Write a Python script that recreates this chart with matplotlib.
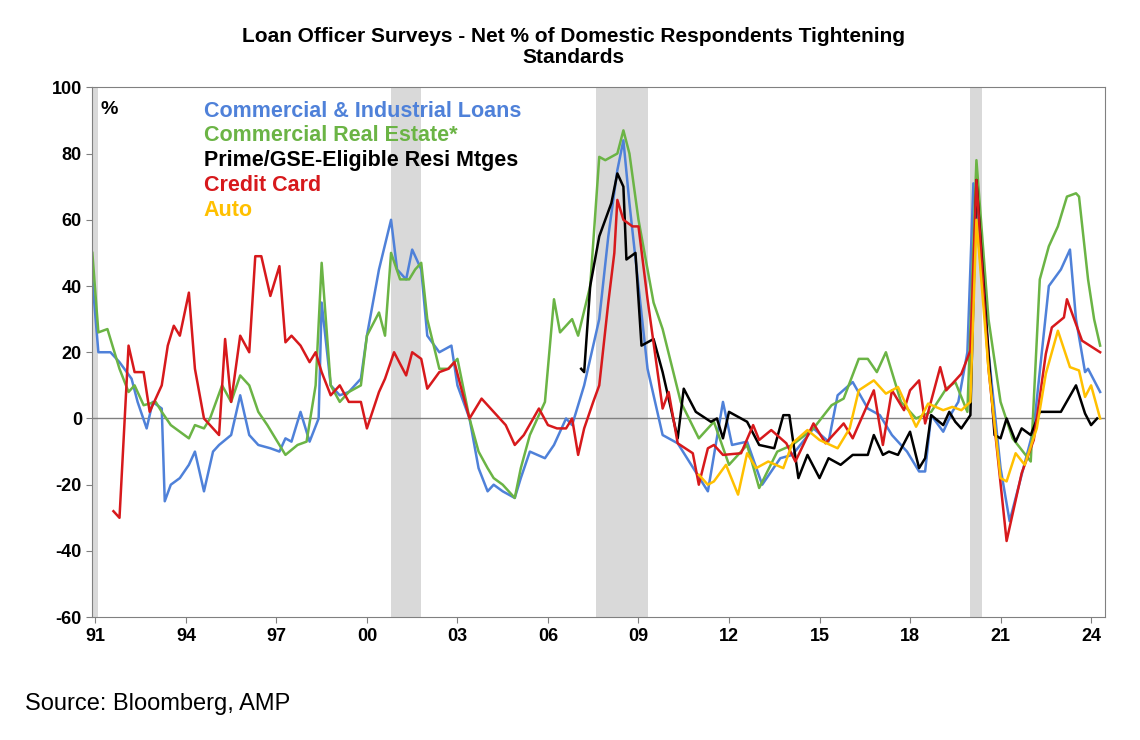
import matplotlib
matplotlib.use('agg')
import matplotlib.pyplot as plt

plt.rcParams['font.family'] = ['Liberation Sans', 'DejaVu Sans']
plt.rcParams['axes.unicode_minus'] = False

# C&I loans
ci_x = [1990.9, 1991.1, 1991.5, 1991.8, 1992.2, 1992.4, 1992.7, 1992.9, 1993.2, 1993.3, 1993.5, 1993.8,
        1994.1, 1994.3, 1994.6, 1994.9, 1995.1, 1995.5, 1995.8, 1996.1, 1996.4, 1996.8, 1997.1, 1997.3,
        1997.5, 1997.8, 1998.1, 1998.4, 1998.5, 1998.8, 1999.1, 1999.4, 1999.8, 2000.0, 2000.4, 2000.8,
        2001.0, 2001.3, 2001.5, 2001.8, 2002.0, 2002.4, 2002.8, 2003.0, 2003.4, 2003.7, 2004.0, 2004.2,
        2004.5, 2004.9, 2005.1, 2005.4, 2005.9, 2006.2, 2006.6, 2006.8, 2007.2, 2007.7, 2008.0, 2008.3,
        2008.5, 2008.7, 2009.0, 2009.3, 2009.8, 2010.3, 2011.3, 2011.8, 2012.1, 2012.6, 2013.1, 2013.7,
        2014.1, 2014.8, 2015.3, 2015.6, 2016.1, 2016.6, 2017.0, 2017.4, 2017.9, 2018.3, 2018.5, 2018.7,
        2019.1, 2019.4, 2019.6, 2019.9, 2020.1, 2020.6, 2021.0, 2021.3, 2021.7, 2022.1, 2022.6, 2023.0,
        2023.3, 2023.5, 2023.8, 2023.9, 2024.3]
ci_y = [42, 20, 20, 17, 12, 5, -3, 5, 3, -25, -20, -18,
        -14, -10, -22, -10, -8, -5, 7, -5, -8, -9, -10, -6,
        -7, 2, -7, 0, 35, 10, 7, 8, 12, 25, 45, 60,
        45, 42, 51, 45, 25, 20, 22, 10, 0, -15, -22, -20,
        -22, -24, -18, -10, -12, -8, 0, -2, 10, 30, 55, 75,
        84, 65, 40, 15, -5, -7.5, -22, 5, -8, -7, -20, -12,
        -11, -3, -7, 7, 11, 3, 1, -5, -10, -16, -16, 1,
        -4, 2, 5, 20, 71, 20, -15, -31, -17, -3, 40, 45,
        51, 30, 14, 15, 8]

# Commercial real estate
cre_x = [1990.9, 1991.1, 1991.4, 1991.8, 1992.1, 1992.3, 1992.6, 1993.0, 1993.2, 1993.5, 1993.8, 1994.1,
         1994.3, 1994.6, 1994.8, 1995.2, 1995.5, 1995.8, 1996.1, 1996.4, 1996.7, 1997.1, 1997.3, 1997.7,
         1998.0, 1998.3, 1998.5, 1998.8, 1999.1, 1999.4, 1999.8, 2000.0, 2000.4, 2000.6, 2000.8, 2001.1,
         2001.4, 2001.6, 2001.8, 2002.0, 2002.4, 2002.7, 2003.0, 2003.4, 2003.7, 2004.0, 2004.2, 2004.5,
         2004.9, 2005.1, 2005.4, 2005.9, 2006.2, 2006.4, 2006.8, 2007.0, 2007.4, 2007.7, 2007.9, 2008.3,
         2008.5, 2008.7, 2009.0, 2009.3, 2009.5, 2009.8, 2010.4, 2011.0, 2011.5, 2012.0, 2012.6, 2013.0,
         2013.6, 2014.1, 2014.8, 2015.4, 2015.8, 2016.3, 2016.6, 2016.9, 2017.2, 2017.7, 2018.2, 2018.7,
         2019.2, 2019.5, 2019.9, 2020.2, 2020.6, 2021.0, 2021.4, 2022.0, 2022.3, 2022.6, 2022.9, 2023.2,
         2023.5, 2023.6, 2023.9, 2024.1, 2024.3]
cre_y = [50, 26, 27, 15, 8, 10, 4, 5, 2, -2, -4, -6,
         -2, -3, 0, 10, 5, 13, 10, 2, -2, -8, -11, -8,
         -7, 10, 47, 10, 5, 8, 10, 25, 32, 25, 50, 42,
         42, 45, 47, 30, 15, 15, 18, 0, -10, -15, -18, -20,
         -24, -15, -5, 5, 36, 26, 30, 25, 40, 79, 78, 80,
         87, 80, 60, 45, 35, 27, 5, -6, -1, -14, -8, -21,
         -10, -8, -3, 4, 6, 18, 18, 14, 20, 5, 0, 2,
         9, 11, 2, 78, 30, 5, -6, -13, 42, 52, 58, 67,
         68, 67, 42, 30, 22]

# Prime / GSE-eligible resi mortgages
resi_x = [2007.1, 2007.2, 2007.4, 2007.7, 2008.1, 2008.3, 2008.5, 2008.6, 2008.9, 2009.1, 2009.3, 2009.5,
          2009.8, 2010.3, 2010.5, 2010.9, 2011.4, 2011.6, 2011.8, 2012.0, 2012.6, 2013.0, 2013.5, 2013.8,
          2014.0, 2014.3, 2014.6, 2015.0, 2015.3, 2015.7, 2016.1, 2016.6, 2016.8, 2017.1, 2017.3, 2017.6,
          2018.0, 2018.3, 2018.5, 2018.7, 2019.1, 2019.3, 2019.5, 2019.7, 2020.0, 2020.2, 2020.6, 2020.8,
          2021.0, 2021.2, 2021.5, 2021.7, 2022.0, 2022.3, 2023.0, 2023.5, 2023.8, 2024.0, 2024.2]
resi_y = [15, 14, 40, 55, 65, 74, 70, 48, 50, 22, 23, 24,
          14, -6, 9, 2, -1, 0, -6, 2, -1, -8, -9, 1,
          1, -18, -11, -18, -12, -14, -11, -11, -5, -11, -10, -11,
          -4, -15, -12, 1, -2, 2, -1, -3, 1, 72, 20, -5,
          -6, 0, -7, -3, -5, 2, 2, 10, 1.5, -2, 0]

# Credit card
cc_x = [1991.6, 1991.8, 1992.1, 1992.3, 1992.6, 1992.8, 1993.2, 1993.4, 1993.6, 1993.8, 1994.1, 1994.3,
        1994.6, 1994.9, 1995.1, 1995.3, 1995.5, 1995.8, 1996.1, 1996.3, 1996.5, 1996.8, 1997.1, 1997.3,
        1997.5, 1997.8, 1998.1, 1998.3, 1998.5, 1998.8, 1999.1, 1999.4, 1999.8, 2000.0, 2000.4, 2000.6,
        2000.9, 2001.3, 2001.5, 2001.8, 2002.0, 2002.4, 2002.7, 2002.9, 2003.1, 2003.4, 2003.6, 2003.8,
        2004.2, 2004.6, 2004.9, 2005.2, 2005.7, 2006.0, 2006.3, 2006.6, 2006.8, 2007.0, 2007.2, 2007.5,
        2007.7, 2008.0, 2008.2, 2008.3, 2008.5, 2008.8, 2009.0, 2009.3, 2009.8, 2010.0, 2010.3, 2010.8,
        2011.0, 2011.3, 2011.5, 2011.8, 2012.4, 2012.8, 2013.0, 2013.4, 2013.9, 2014.2, 2014.8, 2015.2,
        2015.8, 2016.1, 2016.8, 2017.1, 2017.4, 2017.8, 2018.0, 2018.3, 2018.5, 2019.0, 2019.2, 2019.7,
        2020.0, 2020.2, 2020.6, 2021.2, 2021.7, 2022.1, 2022.5, 2022.7, 2023.1, 2023.2, 2023.7, 2024.3]
cc_y = [-28, -30, 22, 14, 14, 2, 10, 22, 28, 25, 38, 15,
        0, -3, -5, 24, 5, 25, 20, 49, 49, 37, 46, 23,
        25, 22, 17, 20, 14, 7, 10, 5, 5, -3, 8, 12,
        20, 13, 20, 18, 9, 14, 15, 17, 10, 0, 3, 6,
        2, -2, -8, -5, 3, -2, -3, -3, 0, -11, -3, 5,
        10, 35, 50, 66, 60, 58, 58, 36, 3, 8, -7.5, -10.5,
        -20, -9, -8, -11, -10.5, -2, -6.5, -3.5, -7.5, -13, -1.5, -7.5,
        -1.5, -6, 8.5, -8, 8.5, 2.5, 8.5, 11.5, -1.5, 15.5, 8.5, 13.5,
        20.5, 72, 15, -37, -16.5, -6.5, 19.5, 27.5, 30.5, 36, 23.5, 20]

# Auto
auto_x = [2011.0, 2011.3, 2011.5, 2011.9, 2012.3, 2012.6, 2012.9, 2013.3, 2013.8, 2014.1, 2014.6, 2015.0,
          2015.6, 2016.0, 2016.3, 2016.8, 2017.2, 2017.6, 2017.9, 2018.2, 2018.6, 2019.1, 2019.4, 2019.7,
          2020.0, 2020.2, 2020.6, 2021.0, 2021.2, 2021.5, 2021.8, 2022.2, 2022.5, 2022.9, 2023.3, 2023.6,
          2023.8, 2024.0, 2024.3]
auto_y = [-17, -20, -19, -14, -23, -10.5, -15, -13, -15, -7.5, -3.5, -6.5,
          -9, -3, 8.5, 11.5, 7.5, 9.5, 3.5, -2.5, 4.5, 2.5, 3.5, 2.5,
          5, 60, 15, -18, -19, -10.5, -14, -3, 13.5, 26.5, 15.5, 14.5,
          6.5, 10, 0]

recessions = [(1990.9, 1991.1), (2000.8, 2001.8), (2007.6, 2009.3), (2020.0, 2020.4)]

series = [
    ("Commercial & Industrial Loans", ci_x, ci_y, "#4f81d9"),
    ("Commercial Real Estate*", cre_x, cre_y, "#6bb445"),
    ("Prime/GSE-Eligible Resi Mtges", resi_x, resi_y, "#000000"),
    ("Credit Card", cc_x, cc_y, "#d7191c"),
    ("Auto", auto_x, auto_y, "#ffc000"),
]

fig = plt.figure(figsize=(11.4, 7.4), dpi=100)
ax = fig.add_axes([0.081, 0.166, 0.888, 0.716])

for a, b in recessions:
    ax.axvspan(a, b, color="#d9d9d9", lw=0, zorder=0)

for name, xs, ys, col in series:
    ax.plot(xs, ys, color=col, lw=1.8, zorder=2)

ax.axhline(0, color="#808080", lw=1, zorder=1)
ax.set_xlim(1990.9, 2024.45)
ax.set_ylim(-60, 100)
ax.set_yticks(range(-60, 101, 20))
ax.set_xticks(range(1991, 2025, 3))
ax.set_xticklabels([f"{y % 100:02d}" for y in range(1991, 2025, 3)])
ax.tick_params(labelsize=13, length=4, color="#808080")
for lab in ax.get_xticklabels() + ax.get_yticklabels():
    lab.set_fontweight("bold")
for s in ax.spines.values():
    s.set_color("#808080")

ax.text(0.008, 0.975, "%", transform=ax.transAxes, fontsize=14, fontweight="bold", va="top")
for i, (name, xs, ys, col) in enumerate(series):
    ax.text(0.11, 0.975 - i * 0.047, name, transform=ax.transAxes, fontsize=15.5,
            fontweight="bold", color=col, va="top")

fig.text(0.503, 0.963, "Loan Officer Surveys - Net % of Domestic Respondents Tightening\nStandards",
         ha="center", va="top", fontsize=15, fontweight="bold", linespacing=1.1)
fig.text(0.022, 0.04, "Source: Bloomberg, AMP", fontsize=17)

fig.savefig("out.png", dpi=100)
